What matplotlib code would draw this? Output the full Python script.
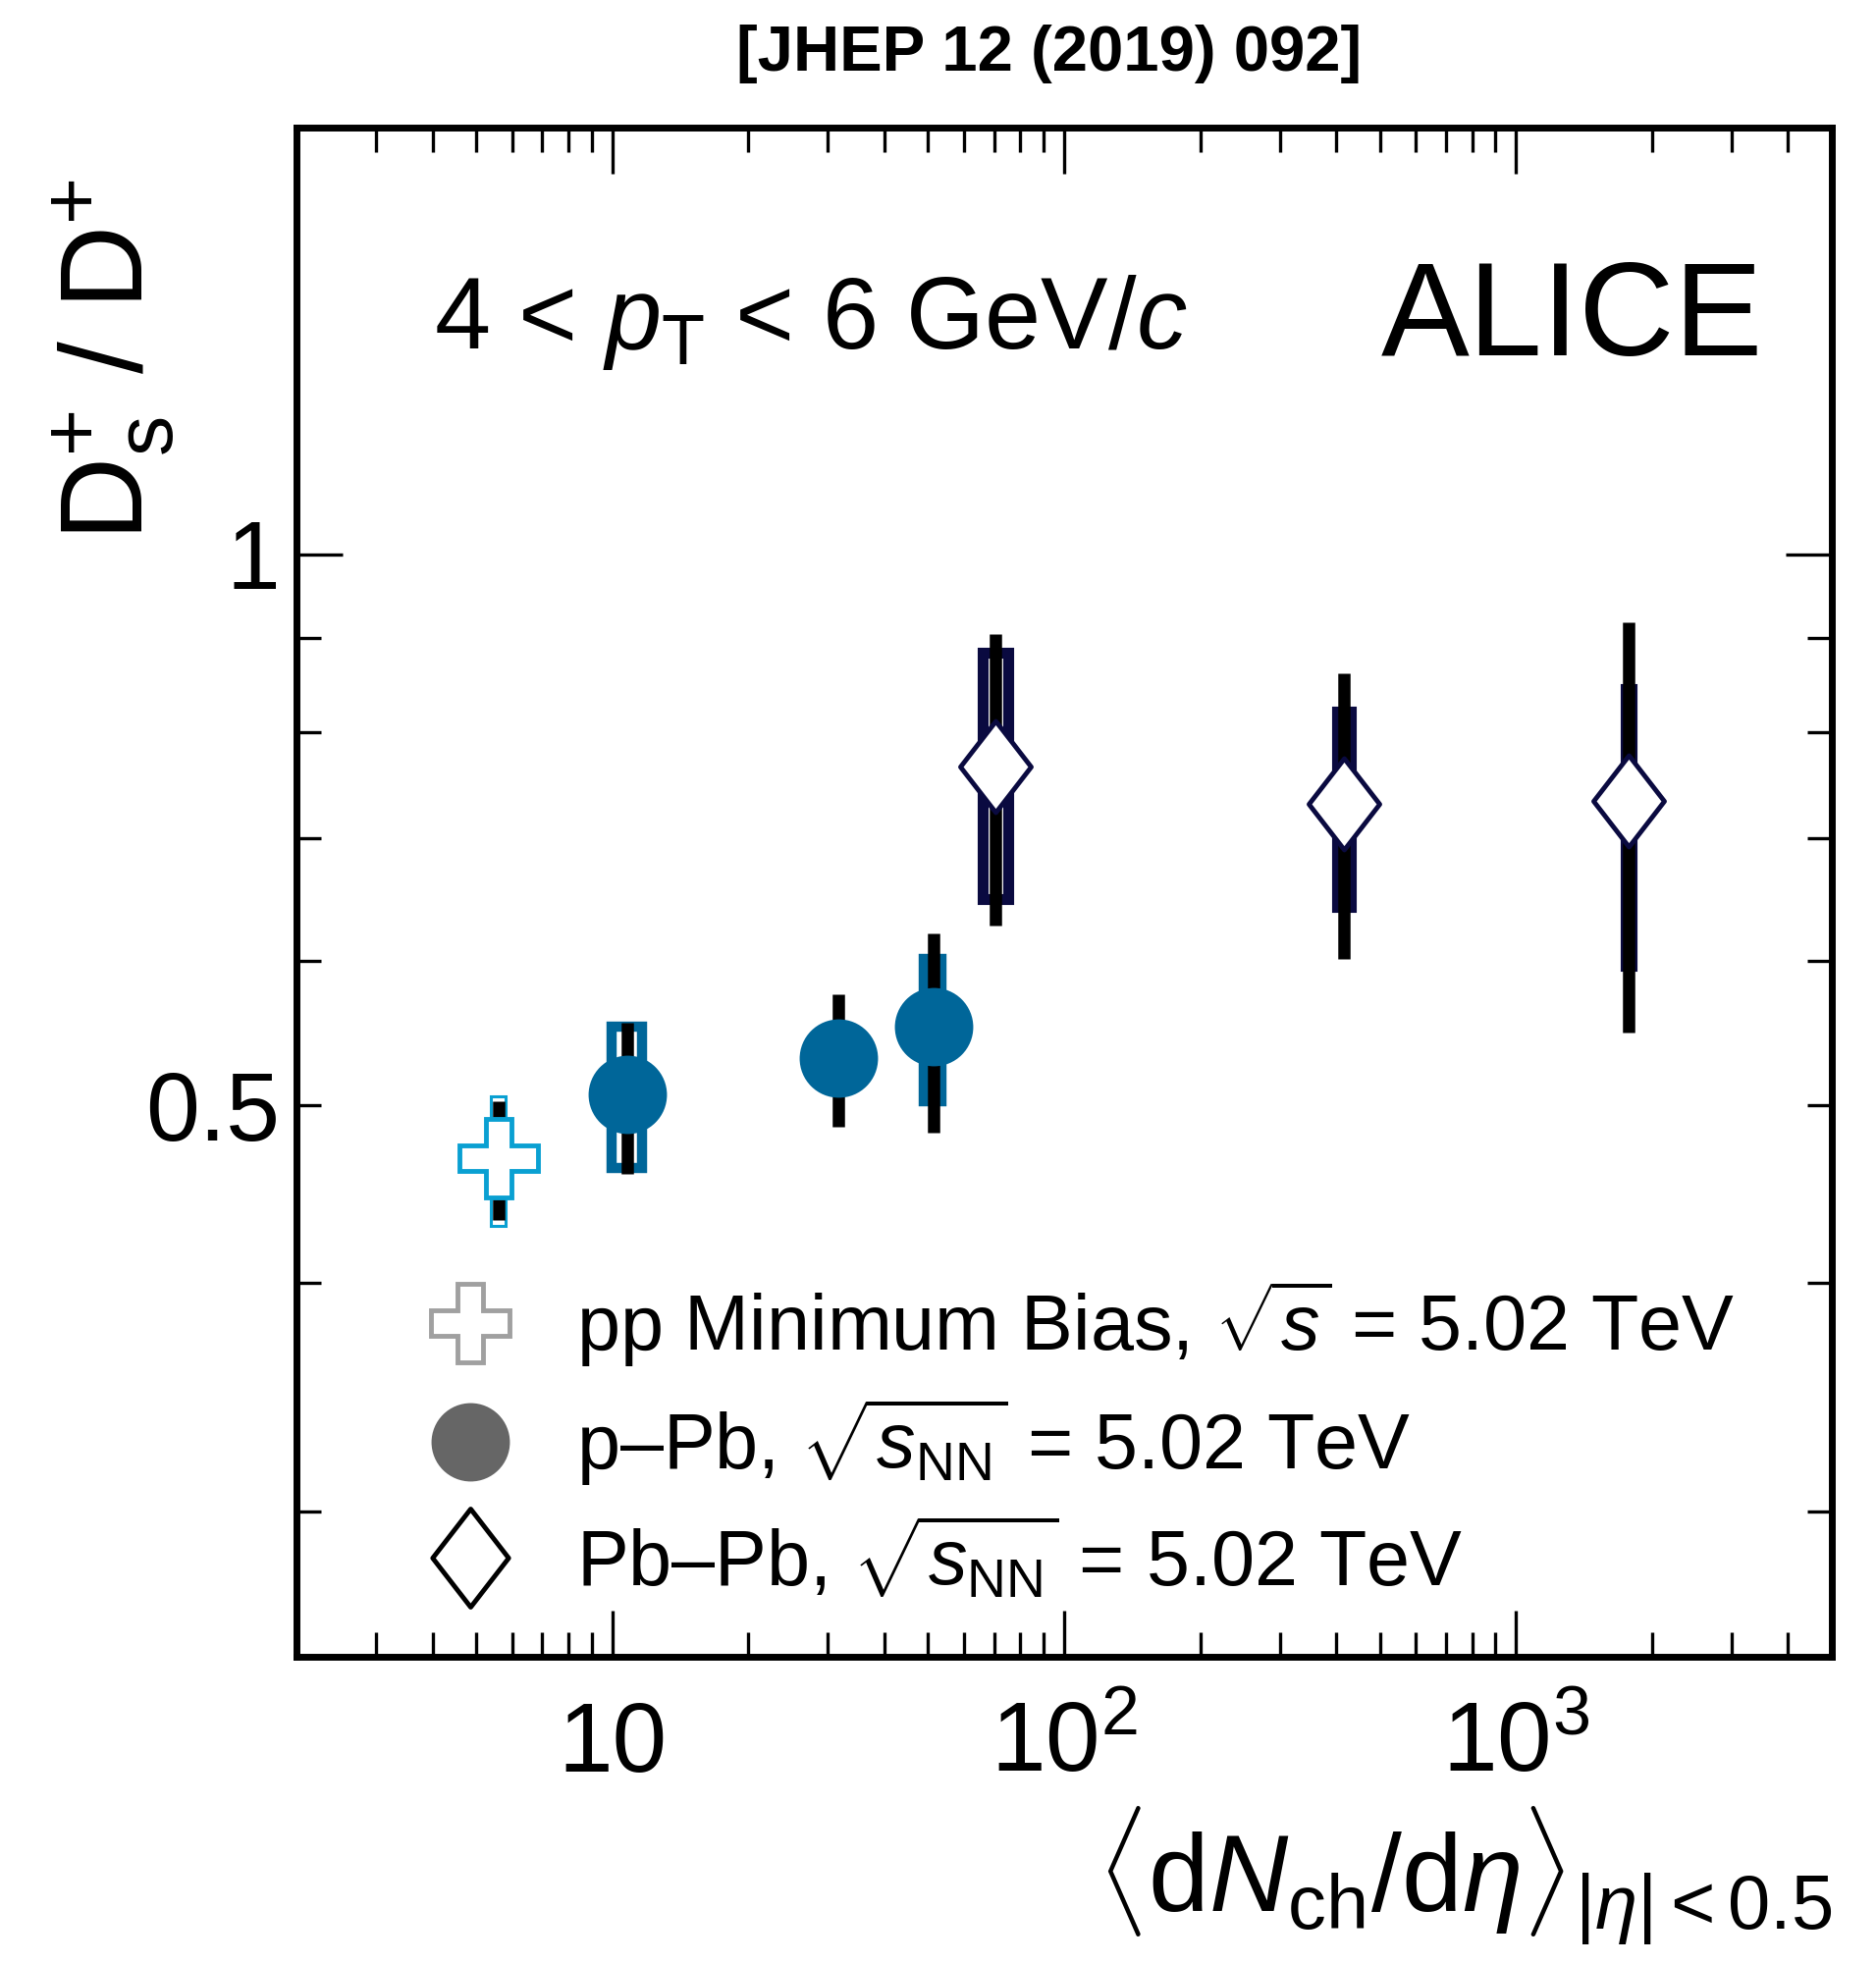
import numpy as np
import matplotlib
matplotlib.use("Agg")
import matplotlib.pyplot as plt
from matplotlib.patches import Rectangle
from matplotlib.lines import Line2D
from matplotlib.path import Path
from matplotlib.ticker import FixedLocator, FuncFormatter, NullFormatter

plt.rcParams['font.family'] = ['Liberation Sans', 'DejaVu Sans']
plt.rcParams['mathtext.fontset'] = 'custom'
plt.rcParams['mathtext.rm'] = 'Liberation Sans'
plt.rcParams['mathtext.it'] = 'Liberation Sans:italic'
plt.rcParams['mathtext.bf'] = 'Liberation Sans:bold'

# D_s+/D+ ratio, 4 < pT < 6 GeV/c, vs <dNch/deta>
pp_x = [5.6]
pp_y = [0.468]
pp_stat = [0.035]
pp_syst = [0.038]
pp_dx = [0.21]

ppb_x = [10.8, 31.6, 51.3]
ppb_y = [0.507, 0.531, 0.552]
ppb_stat = [0.048, 0.044, 0.069]
ppb_syst = [0.045, 0.020, 0.049]
ppb_dx = [0.84, 1.5, 2.3]

pbpb_x = [70.6, 416.0, 1772.0]
pbpb_y = [0.766, 0.731, 0.733]
pbpb_stat = [0.139, 0.130, 0.185]
pbpb_syst_lo = [0.118, 0.089, 0.137]
pbpb_syst_hi = [0.118, 0.090, 0.111]
pbpb_dx = [4.7, 14.5, 26.6]

c_pp = '#0aa0d2'
c_ppb = '#006699'
c_pbpb = '#0a0a40'

# thin diamond marker
diamond = Path([(0, 1), (0.774, 0), (0, -1), (-0.774, 0), (0, 1)],
               [Path.MOVETO, Path.LINETO, Path.LINETO, Path.LINETO, Path.CLOSEPOLY])

fig = plt.figure(figsize=(19.11, 20), dpi=100)
ax = fig.add_axes([0.158, 0.156, 0.9765 - 0.158, 0.935 - 0.156])
ax.set_xscale('log')
ax.set_yscale('log')
ax.set_xlim(2, 5000)
ax.set_ylim(0.25, 1.71)


def syst_boxes(x, y, lo, hi, dx, color, lw):
    for xi, yi, l, h, d in zip(x, y, lo, hi, dx):
        ax.add_patch(Rectangle((xi - d, yi - l), 2 * d, l + h, facecolor='none',
                               edgecolor=color, linewidth=lw, zorder=2))


syst_boxes(pp_x, pp_y, pp_syst, pp_syst, pp_dx, c_pp, 2.2)
syst_boxes(ppb_x, ppb_y, ppb_syst, ppb_syst, ppb_dx, c_ppb, 7.5)
syst_boxes(pbpb_x, pbpb_y, pbpb_syst_lo, pbpb_syst_hi, pbpb_dx, c_pbpb, 8)

for x, y, e in [(pp_x, pp_y, pp_stat), (ppb_x, ppb_y, ppb_stat), (pbpb_x, pbpb_y, pbpb_stat)]:
    ax.errorbar(x, y, yerr=e, fmt='none', ecolor='black', elinewidth=9, capsize=0, zorder=3)

ax.plot(pp_x, pp_y, ls='none', marker='P', ms=58, mfc='white', mec=c_pp, mew=3.5, zorder=4)
ax.plot(ppb_x, ppb_y, ls='none', marker='o', ms=57.5, mfc=c_ppb, mec=c_ppb, mew=0, zorder=4)
ax.plot(pbpb_x, pbpb_y, ls='none', marker=diamond, ms=67, mfc='white', mec=c_pbpb, mew=3.5, zorder=4)

# axes frame and ticks
for s in ax.spines.values():
    s.set_linewidth(5)
ax.tick_params(which='both', direction='in', top=True, right=True, width=2.4)
ax.tick_params(which='major', length=34)
ax.tick_params(which='minor', length=18)
ax.tick_params(axis='x', which='both', labelsize=72, pad=32)
ax.tick_params(axis='y', which='both', labelsize=71, pad=12)

ax.xaxis.set_major_locator(FixedLocator([10, 100, 1000]))
ax.xaxis.set_major_formatter(FuncFormatter(
    lambda v, p: {10: '10', 100: r'$10^{2}$', 1000: r'$10^{3}$'}.get(int(round(v)), '')))
ax.xaxis.set_minor_locator(FixedLocator(
    [m * 10 ** k for k in range(0, 4) for m in range(2, 10) if 2 < m * 10 ** k < 5000]))
ax.xaxis.set_minor_formatter(NullFormatter())

ax.yaxis.set_major_locator(FixedLocator([1.0]))
ax.yaxis.set_major_formatter(FuncFormatter(lambda v, p: '1'))
ax.yaxis.set_minor_locator(FixedLocator([0.3, 0.4, 0.5, 0.6, 0.7, 0.8, 0.9]))
ax.yaxis.set_minor_formatter(FuncFormatter(lambda v, p: '0.5' if abs(v - 0.5) < 1e-6 else ''))

ax.set_xlabel(r'$\langle\mathrm{d}N_{\mathrm{ch}}/\mathrm{d}\eta\rangle_{|\eta|<0.5}$',
              fontsize=80, loc='right')
ax.xaxis.set_label_coords(1.0, -0.097)
ax.set_ylabel(r'D$_{\rm s}^{+}$ / D$^{+}$', fontsize=85, loc='top')
ax.yaxis.set_label_coords(-0.077, 0.966)

ax.text(0.0895, 0.8556, r'4 < $p_{\rm T}$ < 6 GeV/$c$', transform=ax.transAxes,
        fontsize=74, ha='left', va='baseline')
ax.text(0.955, 0.851, 'ALICE', transform=ax.transAxes,
        fontsize=97, ha='right', va='baseline')
fig.text(0.559, 1 - 72 / 2000, '[JHEP 12 (2019) 092]', fontsize=47,
         fontweight='bold', ha='center', va='baseline')

handles = [
    Line2D([], [], ls='none', marker='P', ms=58, mfc='white', mec='#a0a0a0', mew=3.5),
    Line2D([], [], ls='none', marker='o', ms=57.5, mfc='#666666', mec='#666666', mew=0),
    Line2D([], [], ls='none', marker=diamond, ms=72, mfc='white', mec='black', mew=3.5),
]
labels = [
    r'pp Minimum Bias, $\sqrt{s}$ = 5.02 TeV',
    r'p–Pb, $\sqrt{s_{\rm NN}}$ = 5.02 TeV',
    r'Pb–Pb, $\sqrt{s_{\rm NN}}$ = 5.02 TeV',
]
ax.legend(handles, labels, loc='center left', bbox_to_anchor=(0.083, 0.1418),
          frameon=False, fontsize=57, handlelength=1.2, handletextpad=0.76,
          labelspacing=0.35, borderpad=0, borderaxespad=0)

fig.savefig('out.png', dpi=100)
